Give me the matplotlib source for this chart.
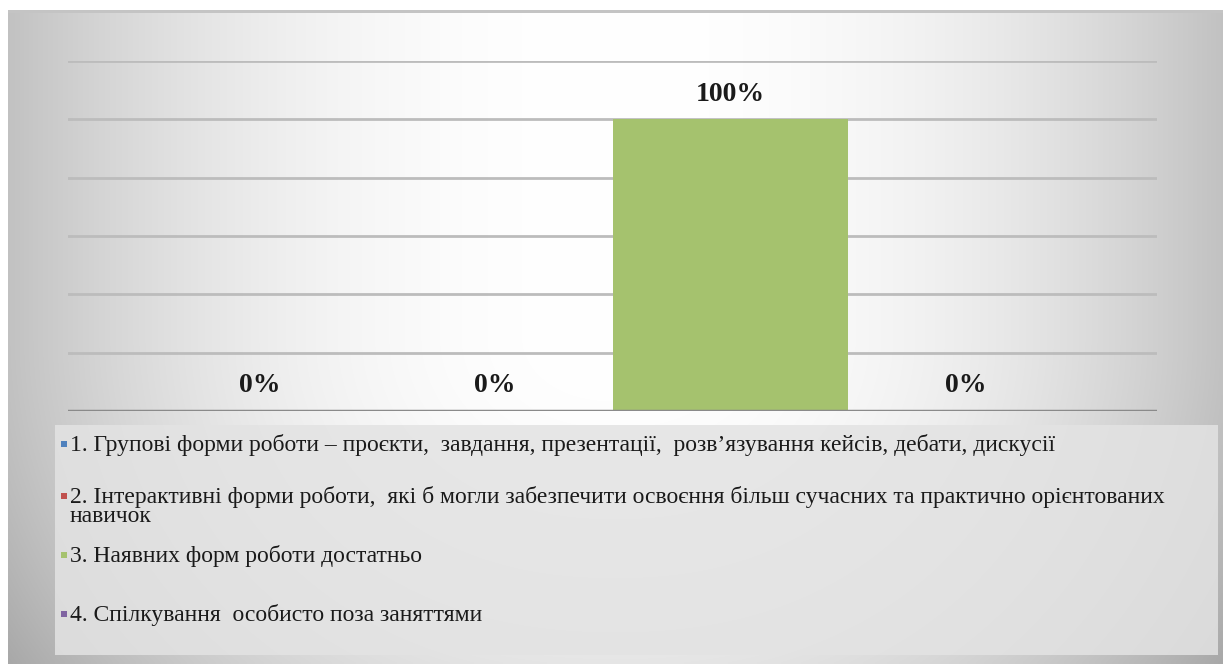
import matplotlib.pyplot as plt
import numpy as np
from matplotlib.patches import Rectangle

plt.rcParams['font.family'] = ['Liberation Serif', 'DejaVu Serif']

series = [
    "1. Групові форми роботи – проєкти,  завдання, презентації,  розв’язування кейсів, дебати, дискусії",
    "2. Інтерактивні форми роботи,  які б могли забезпечити освоєння більш сучасних та практично орієнтованих\nнавичок",
    "3. Наявних форм роботи достатньо",
    "4. Спілкування  особисто поза заняттями",
]
values = [0, 0, 100, 0]
colors = ['#4F81BD', '#C0504D', '#A5C26E', '#8064A2']

W, H = 1223, 664
fig = plt.figure(figsize=(W / 100, H / 100), dpi=100)
fig.patch.set_facecolor('white')

# gradient background of the chart frame
bg = fig.add_axes([0, 0, 1, 1])
bg.set_xlim(0, W)
bg.set_ylim(H, 0)
bg.axis('off')
xs = np.linspace(-1, 1, 400)
ys = np.linspace(-1, 1, 200)
X, Y = np.meshgrid(xs, ys)
G = 1 - 0.24 * (np.abs(X) ** 2.2) - 0.10 * np.clip(Y, 0, None) ** 2
img = np.dstack([G, G, G])
bg.imshow(img, extent=(8, W, H, 10), aspect='auto', interpolation='bilinear')
bg.add_patch(Rectangle((8, 10), W - 8, 3, color='#c4c4c4', lw=0))

# main chart
ax = fig.add_axes([68 / W, (H - 411) / H, (1157 - 68) / W, (411 - 61) / H])
ax.patch.set_alpha(0)
n = len(values)
group = 0.864
bw = group / n
x = -group / 2 + bw / 2 + bw * np.arange(n)
bars = ax.bar(x, values, width=bw, color=colors, zorder=3)
ax.set_xlim(-0.5, 0.5)
ax.set_ylim(0, 120)
ax.set_yticks(np.arange(20, 121, 20))
ax.yaxis.grid(True, color='#bcbcbc', lw=2, zorder=0)
ax.axhline(0, color='#8a8a8a', lw=2.5, zorder=4)
ax.tick_params(left=False, bottom=False, labelleft=False, labelbottom=False)
for s in ax.spines.values():
    s.set_visible(False)
ax.bar_label(bars, labels=[f"{v}%" for v in values], padding=9,
             fontsize=20, fontweight='bold', color='#1a1a1a')

# legend box
lg = fig.add_axes([0, 0, 1, 1])
lg.set_xlim(0, W)
lg.set_ylim(H, 0)
lg.axis('off')
lg.patch.set_alpha(0)
lg.add_patch(Rectangle((55, 425), 1218 - 55, 655 - 425, facecolor='#e3e3e3',
                       edgecolor='none', alpha=0.85))
ys_entry = [445, 497, 556, 615]
for label, c, yy in zip(series, colors, ys_entry):
    lg.add_patch(Rectangle((61, yy - 4), 6, 6, facecolor=c, edgecolor='none'))
    lg.text(70, yy - 11, label, fontsize=17, va='top', ha='left',
            color='#1a1a1a', linespacing=0.88)

fig.savefig('out.png', dpi=100)
